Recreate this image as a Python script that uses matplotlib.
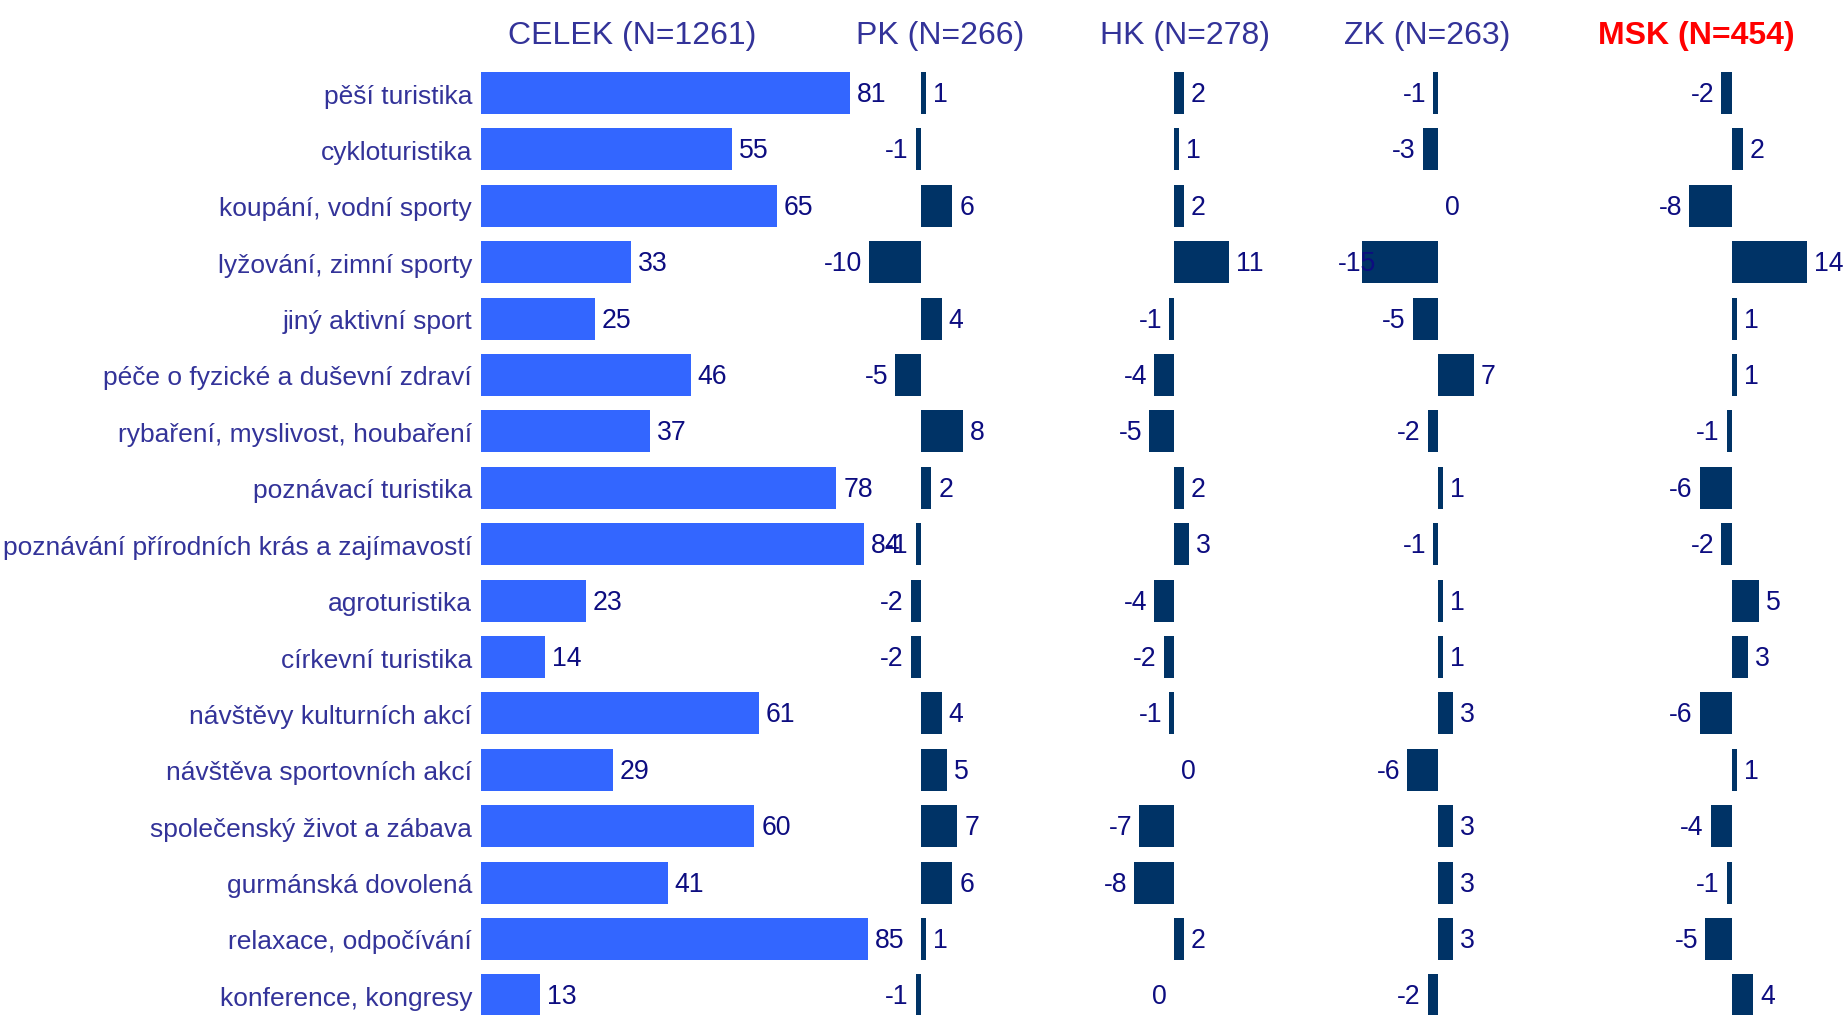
import numpy as np
import matplotlib
matplotlib.use("Agg")
import matplotlib.pyplot as plt
from matplotlib import font_manager
from matplotlib.transforms import ScaledTranslation

# ---------------- data ----------------
categories = [
    "pěší turistika", "cykloturistika", "koupání, vodní sporty",
    "lyžování, zimní sporty", "jiný aktivní sport",
    "péče o fyzické a duševní zdraví", "rybaření, myslivost, houbaření",
    "poznávací turistika", "poznávání přírodních krás a zajímavostí",
    "agroturistika", "církevní turistika", "návštěvy kulturních akcí",
    "návštěva sportovních akcí", "společenský život a zábava",
    "gurmánská dovolená", "relaxace, odpočívání", "konference, kongresy",
]
celek = [81, 55, 65, 33, 25, 46, 37, 78, 84, 23, 14, 61, 29, 60, 41, 85, 13]
pk = [1, -1, 6, -10, 4, -5, 8, 2, -1, -2, -2, 4, 5, 7, 6, 1, -1]
hk = [2, 1, 2, 11, -1, -4, -5, 2, 3, -4, -2, -1, 0.0, -7, -8, 2, -0.0]
zk = [-1, -3, 0.0, -15, -5, 7, -2, 1, -1, 1, 1, 3, -6, 3, 3, 3, -2]
msk = [-2, 2, -8, 14, 1, 1, -1, -6, -2, 5, 3, -6, 1, -4, -1, -5, 4]
titles = ["CELEK (N=1261)", "PK (N=266)", "HK (N=278)", "ZK (N=263)", "MSK (N=454)"]

# ---------------- style ----------------
W, H = 1845, 1015
names = {f.name for f in font_manager.fontManager.ttflist}
narrow = "Liberation Sans Narrow" if "Liberation Sans Narrow" in names else "Liberation Sans"
title_size = 27 if narrow == "Liberation Sans Narrow" else 23
base_font = "Liberation Sans"

TITLE_C = "#333399"
LABEL_C = "#333399"
VALUE_C = "#0d0d80"
MAIN_BAR = "#3366FF"
DIFF_BAR = "#003366"

fig = plt.figure(figsize=(W / 100, H / 100), dpi=100)

row0, rowstep = 93.0, 56.4
ylim = ((H - row0) / rowstep, -row0 / rowstep)
y = np.arange(len(categories))
bar_h = 42 / rowstep


def make_ax(zero_px, scale, xmin, xmax):
    left = zero_px + xmin * scale
    width = (xmax - xmin) * scale
    ax = fig.add_axes([left / W, 0, width / W, 1])
    ax.set_xlim(xmin, xmax)
    ax.set_ylim(*ylim)
    ax.axis("off")
    ax.patch.set_visible(False)
    return ax


def fmt(v):
    if v == 0:
        return "0"
    return f"{v:.0f}"


def add_values(ax, vals):
    off = 7 / 100  # inches
    texts = []
    for yi, v in zip(y, vals):
        neg = np.signbit(v)
        dx = -off if neg else off
        tr = ax.transData + ScaledTranslation(dx, -2 / 100, fig.dpi_scale_trans)
        t = ax.text(v, yi, fmt(v), ha="right" if neg else "left", va="center",
                    fontsize=19.2, family=base_font, color=VALUE_C,
                    transform=tr, clip_on=False)
        texts.append((t, yi, neg))
    return texts


# CELEK panel
ax0 = make_ax(481, 4.555, 0, 100)
ax0.barh(y, celek, height=bar_h, color=MAIN_BAR)
add_values(ax0, celek)
lab_tr = ax0.transData + ScaledTranslation(-9 / 100, -3.5 / 100, fig.dpi_scale_trans)
for yi, c in zip(y, categories):
    ax0.text(0, yi, c, ha="right", va="center", fontsize=19.0,
             family=base_font, color=LABEL_C, clip_on=False, transform=lab_tr)

panels = [
    (pk, 921, 5.2, -19.0, 15),
    (hk, 1174, 5.0, -15, 15),
    (zk, 1438, 5.1, -19.6, 12),
    (msk, 1732, 5.36, -15, 16),
]
all_texts = []
for vals, z, s, a, b in panels:
    ax = make_ax(z, s, a, b)
    ax.barh(y, vals, height=bar_h, color=DIFF_BAR)
    all_texts.append((ax, add_values(ax, vals)))

# keep negative labels inside their plot area (pushed in like the original)
fig.canvas.draw()
renderer = fig.canvas.get_renderer()
for ax, texts in all_texts:
    axbb = ax.get_window_extent(renderer)
    for t, yi, neg in texts:
        if neg:
            bb = t.get_window_extent(renderer)
            if bb.x0 < axbb.x0:
                t.set_transform(ax.transData + ScaledTranslation(0, -2 / 100, fig.dpi_scale_trans))
                t.set_x(ax.get_xlim()[0])
                t.set_ha("left")

# titles
title_x = [632, 940, 1185, 1427, 1696]
for i, (tx, tt) in enumerate(zip(title_x, titles)):
    is_msk = i == 4
    fig.text(tx / W, 1 - 44 / H, tt, ha="center", va="baseline",
             fontsize=title_size, family=narrow,
             color="#FF0000" if is_msk else TITLE_C,
             fontweight="bold" if is_msk else "normal")

fig.savefig("out.png", dpi=100, facecolor="white")
